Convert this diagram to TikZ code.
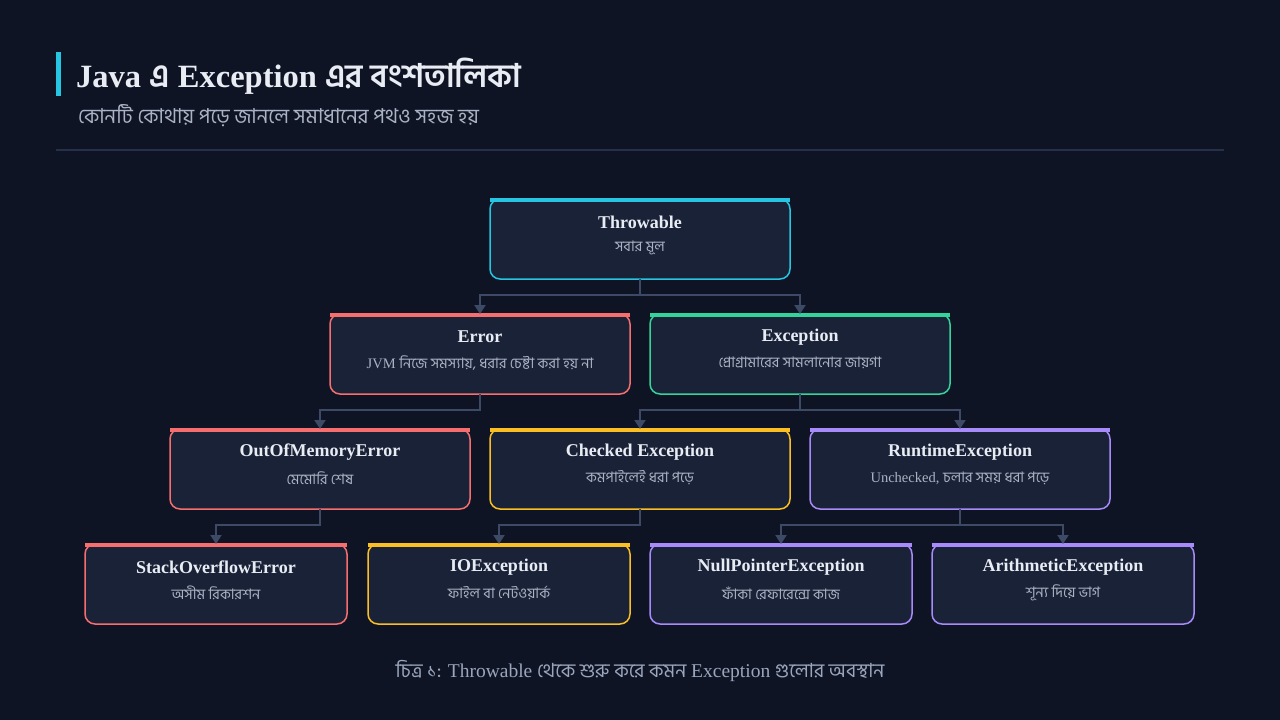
\documentclass[tikz,border=0pt]{standalone}
\usepackage{fontspec}
\setmainfont{Liberation Serif}
\newfontfamily\bn[Script=Bengali]{Hind Siliguri}
\usepackage{tikz}
\usetikzlibrary{arrows.meta}
\usepackage{xcolor}
\definecolor{bgnavy}{RGB}{15,20,37}
\definecolor{boxfill}{RGB}{26,34,56}
\definecolor{linkgrey}{RGB}{60,74,102}
\definecolor{rulegrey}{RGB}{37,49,73}
\definecolor{headwhite}{RGB}{232,236,243}
\definecolor{subgrey}{RGB}{170,179,196}
\definecolor{capgrey}{RGB}{154,166,187}
\definecolor{cyanc}{RGB}{38,198,226}
\definecolor{redc}{RGB}{246,110,110}
\definecolor{greenc}{RGB}{52,211,153}
\definecolor{amberc}{RGB}{251,191,36}
\definecolor{purplec}{RGB}{167,139,250}
\tikzset{%
    exbox/.style={%
        draw=#1, fill=boxfill, rounded corners=10pt, line width=1.5pt,
        minimum width=300pt, minimum height=80pt, inner sep=0pt, outer sep=0pt
    },
    leafbox/.style={exbox=#1, minimum width=262pt},
    head/.style={font=\fontsize{18}{22}\selectfont\bfseries, text=headwhite},
    sub/.style={font=\fontsize{14.5}{17}\selectfont, text=subgrey},
    link/.style={draw=linkgrey, line width=2pt, -{Triangle[width=11pt,length=9pt]}}
}
\begin{document}
\begin{tikzpicture}[x=1pt,y=-1pt]
    \fill[bgnavy] (0,0) rectangle (1280,720);
    \useasboundingbox (0,0) rectangle (1280,720);
    % title block
    \fill[cyanc] (56,52) rectangle (61,96);
    \node[anchor=base west, inner sep=0pt, text=headwhite,
          font=\fontsize{32.5}{36}\selectfont\bfseries] (title) at (76,87)
          {Java {\bn এ} Exception {\bn এর বংশতালিকা}};
    \node[anchor=base west, inner sep=0pt, text=subgrey,
          font=\fontsize{20.5}{24}\selectfont\bn] (subtitle) at (78,123)
          {কোনটি কোথায় পড়ে জানলে সমাধানের পথও সহজ হয়};
    \draw[rulegrey, line width=1.5pt] (56,150) -- (1224,150);
    % boxes
    \node[exbox=cyanc] (thr) at (640,239) {};
    \node[exbox=redc] (err) at (480,354) {};
    \node[exbox=greenc] (exc) at (800,354) {};
    \node[exbox=redc] (oom) at (320,469) {};
    \node[exbox=amberc] (chk) at (640,469) {};
    \node[exbox=purplec] (rte) at (960,469) {};
    \node[leafbox=redc] (soe) at (216,584) {};
    \node[leafbox=amberc] (ioe) at (499,584) {};
    \node[leafbox=purplec] (npe) at (781,584) {};
    \node[leafbox=purplec] (ari) at (1063,584) {};
    \foreach \b/\c in {thr/cyanc,err/redc,exc/greenc,oom/redc,chk/amberc,
                       rte/purplec,soe/redc,ioe/amberc,npe/purplec,ari/purplec}
    {
    \fill[\c] ([yshift=0.75pt]\b.north west) rectangle ([yshift=-3pt]\b.north east);
    }
    % texts
    \node[head] (thr-h) at ([yshift=17pt]thr.center) {Throwable};
    \node[sub] (thr-s) at ([yshift=-9pt]thr.center) {\bn সবার মূল};
    \node[head] (err-h) at ([yshift=17pt]err.center) {Error};
    \node[sub] (err-s) at ([yshift=-9pt]err.center) {JVM {\bn নিজে সমস্যায়, ধরার চেষ্টা করা হয় না}};
    \node[head] (exc-h) at ([yshift=17pt]exc.center) {Exception};
    \node[sub] (exc-s) at ([yshift=-9pt]exc.center) {\bn প্রোগ্রামারের সামলানোর জায়গা};
    \node[head] (oom-h) at ([yshift=17pt]oom.center) {OutOfMemoryError};
    \node[sub] (oom-s) at ([yshift=-9pt]oom.center) {\bn মেমোরি শেষ};
    \node[head] (chk-h) at ([yshift=17pt]chk.center) {Checked Exception};
    \node[sub] (chk-s) at ([yshift=-9pt]chk.center) {\bn কমপাইলেই ধরা পড়ে};
    \node[head] (rte-h) at ([yshift=17pt]rte.center) {RuntimeException};
    \node[sub] (rte-s) at ([yshift=-9pt]rte.center) {Unchecked, {\bn চলার সময় ধরা পড়ে}};
    \node[head] (soe-h) at ([yshift=17pt]soe.center) {StackOverflowError};
    \node[sub] (soe-s) at ([yshift=-9pt]soe.center) {\bn অসীম রিকারশন};
    \node[head] (ioe-h) at ([yshift=17pt]ioe.center) {IOException};
    \node[sub] (ioe-s) at ([yshift=-9pt]ioe.center) {\bn ফাইল বা নেটওয়ার্ক};
    \node[head] (npe-h) at ([yshift=17pt]npe.center) {NullPointerException};
    \node[sub] (npe-s) at ([yshift=-9pt]npe.center) {\bn ফাঁকা রেফারেন্সে কাজ};
    \node[head] (ari-h) at ([yshift=17pt]ari.center) {ArithmeticException};
    \node[sub] (ari-s) at ([yshift=-9pt]ari.center) {\bn শূন্য দিয়ে ভাগ};
    % connectors
    \draw[link] (thr.south) -- ++(0,16) -| (err.north);
    \draw[link] (thr.south) -- ++(0,16) -| (exc.north);
    \draw[link] (err.south) -- ++(0,16) -| (oom.north);
    \draw[link] (exc.south) -- ++(0,16) -| (chk.north);
    \draw[link] (exc.south) -- ++(0,16) -| (rte.north);
    \draw[link] (oom.south) -- ++(0,16) -| (soe.north);
    \draw[link] (chk.south) -- ++(0,16) -| (ioe.north);
    \draw[link] (rte.south) -- ++(0,16) -| (npe.north);
    \draw[link] (rte.south) -- ++(0,16) -| (ari.north);
    % caption
    \node[anchor=base, inner sep=0pt, text=capgrey,
          font=\fontsize{19.5}{23}\selectfont] (caption) at (640,677)
          {{\bn চিত্র ১:} Throwable {\bn থেকে শুরু করে কমন} Exception {\bn গুলোর অবস্থান}};
\end{tikzpicture}
\end{document}
